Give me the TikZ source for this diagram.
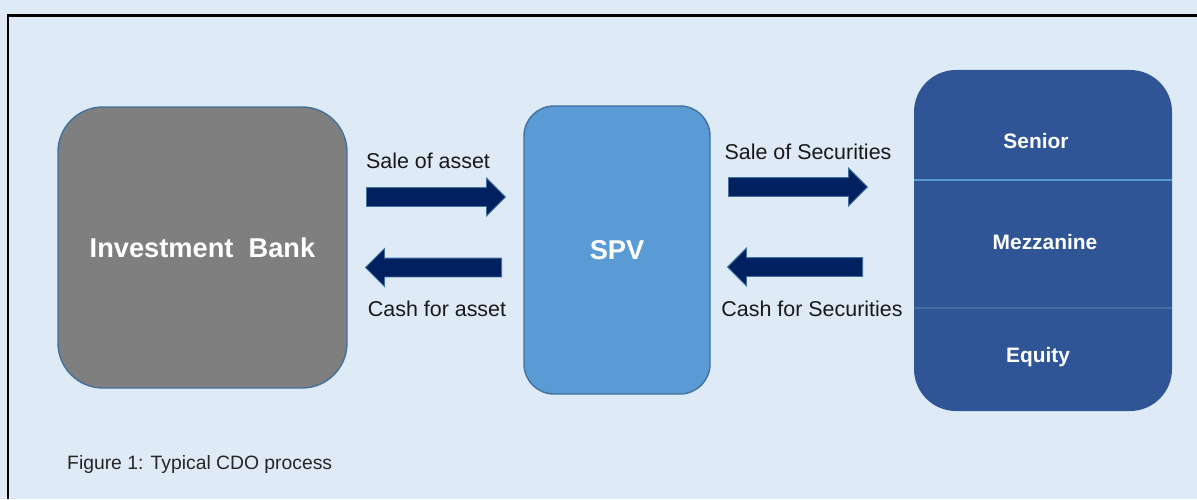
\documentclass[tikz,border=0pt]{standalone}
\usepackage{fontspec}
\setmainfont{Liberation Sans}
\usetikzlibrary{shapes.arrows,positioning}

\definecolor{pagebg}{HTML}{DEEAF6}
\definecolor{bankgray}{HTML}{7F7F7F}
\definecolor{spvblue}{HTML}{5B9BD5}
\definecolor{trancheblue}{HTML}{2F5597}
\definecolor{edgeblue}{HTML}{41719C}
\definecolor{arrownavy}{HTML}{002060}

\tikzset{
  party/.style={draw=edgeblue, line width=0.8pt, text=white, font=\bfseries\fontsize{15.5}{18}\selectfont},
  tranche/.style={text=white, font=\bfseries\fontsize{11.9}{14}\selectfont},
  flow/.style={single arrow, draw=edgeblue, fill=arrownavy, line width=0.5pt,
    inner xsep=0pt, inner ysep=0.18cm, single arrow head extend=0.19cm,
    single arrow tip angle=90, anchor=tail},
  flowlabel/.style={text=black!90, font=\fontsize{12.2}{14}\selectfont}
}

\begin{document}
\begin{tikzpicture}
   \useasboundingbox (0,0) rectangle (23.94,9.98);
   \fill[pagebg] (0,0) rectangle (23.94,9.98);
   \draw[line width=1.2pt] (0.16,0) -- (0.16,9.67) -- (23.94,9.67);

   % the three parties
   \node[party, fill=bankgray, rounded corners=0.9cm, minimum width=5.78cm, minimum height=5.62cm] (bank) at (4.05,5.03) {Investment\ \ Bank};
   \node[party, fill=spvblue, rounded corners=0.6cm, minimum width=3.72cm, minimum height=5.76cm] (spv) at (12.34,4.98) {SPV};
   \node[fill=trancheblue, rounded corners=0.84cm, minimum width=5.16cm, minimum height=6.82cm] (notes) at (20.86,5.17) {};

   % tranches
   \draw[spvblue, line width=0.6pt] (notes.west |- 0,6.38) -- (notes.east |- 0,6.38);
   \draw[edgeblue, line width=0.8pt] (notes.west |- 0,3.82) -- (notes.east |- 0,3.82);
   \node[tranche] (senior) at (20.72,7.16) {Senior};
   \node[tranche] (mezz) at (20.90,5.14) {Mezzanine};
   \node[tranche] (equity) at (20.76,2.84) {Equity};

   % flows between bank, SPV and investors (placed by their tails)
   \node[flow, minimum height=2.78cm] (saleasset) at (7.32,6.04) {};
   \node[flow, minimum height=2.72cm, shape border rotate=180] (cashasset) at (10.04,4.63) {};
   \node[flow, minimum height=2.78cm] (salesec) at (14.56,6.24) {};
   \node[flow, minimum height=2.70cm, shape border rotate=180] (cashsec) at (17.26,4.64) {};

   \node[flowlabel] (saleassettxt) at (8.56,6.76) {Sale of asset};
   \node[flowlabel] (cashassettxt) at (8.74,3.80) {Cash for asset};
   \node[flowlabel] (salesectxt) at (16.16,6.94) {Sale of Securities};
   \node[flowlabel] (cashsectxt) at (16.24,3.80) {Cash for Securities};

   \node[anchor=west, text=black!85, font=\fontsize{11}{13}\selectfont] (caption) at (1.22,0.70) {Figure 1: Typical CDO process};
\end{tikzpicture}
\end{document}
